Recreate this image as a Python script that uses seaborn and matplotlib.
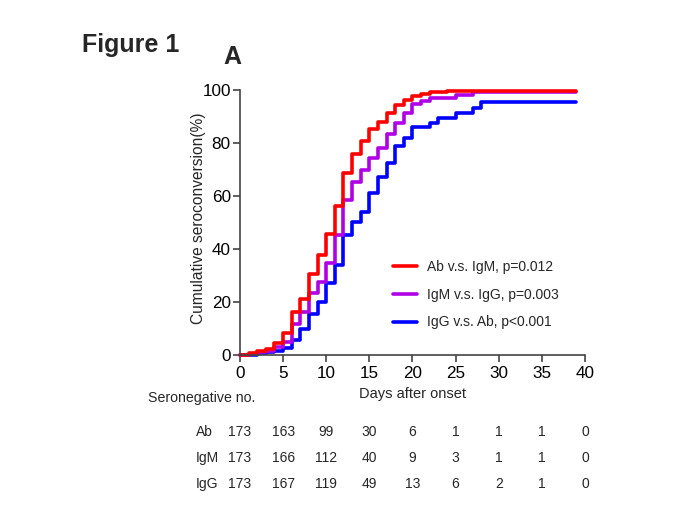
import matplotlib.pyplot as plt
import matplotlib.transforms as mtransforms
import seaborn as sns
import pandas as pd

sns.set_theme(style="ticks")
plt.rcParams['font.family'] = ['Liberation Sans', 'DejaVu Sans']

# Cumulative seroconversion (%)
ab_days = [0, 1, 2, 3, 4, 5, 6, 7, 8, 9, 10, 11, 12, 13, 14, 15, 16, 17, 18, 19, 20, 21, 22, 24, 39]
ab_pct = [0, 0.6, 1.5, 2.2, 4.5, 8.3, 16.4, 21.0, 30.7, 37.8, 45.7, 56.3, 68.8, 76.0, 80.6,
          85.2, 87.9, 91.2, 94.5, 96.2, 97.7, 98.5, 99.1, 99.6, 99.6]

igm_days = [0, 1, 2, 3, 4, 5, 6, 7, 8, 9, 10, 11, 12, 13, 14, 15, 16, 17, 18, 19, 20, 21, 22, 25, 27, 39]
igm_pct = [0, 0.3, 1.0, 1.5, 3.2, 5.0, 11.7, 16.4, 23.3, 27.7, 34.6, 45.3, 58.5, 65.4, 69.9,
           74.5, 78.2, 83.3, 87.7, 91.4, 94.6, 96.0, 97.1, 98.1, 99.4, 99.4]

igg_days = [0, 2, 3, 4, 5, 6, 7, 8, 9, 10, 11, 12, 13, 14, 15, 16, 17, 18, 19, 20, 22, 23, 25, 27, 28, 39]
igg_pct = [0, 0.6, 1.0, 1.5, 2.8, 5.5, 10.0, 15.5, 20.0, 27.2, 33.8, 45.2, 50.3, 54.1,
           61.0, 67.2, 72.6, 78.9, 81.8, 85.9, 87.7, 89.3, 91.2, 93.1, 95.3, 95.3]

labels = ['Ab v.s. IgM, p=0.012', 'IgM v.s. IgG, p=0.003', 'IgG v.s. Ab, p<0.001']
colors = ['#FF0000', '#B000E6', '#0000FF']

# Number at risk table
table_days = [0, 5, 10, 15, 20, 25, 30, 35, 40]
table_rows = ['Ab', 'IgM', 'IgG']
ab_risk = [173, 163, 99, 30, 6, 1, 1, 1, 0]
igm_risk = [173, 166, 112, 40, 9, 3, 1, 1, 0]
igg_risk = [173, 167, 119, 49, 13, 6, 2, 1, 0]

df = pd.concat([
    pd.DataFrame({'day': igg_days, 'pct': igg_pct, 'grp': labels[2]}),
    pd.DataFrame({'day': igm_days, 'pct': igm_pct, 'grp': labels[1]}),
    pd.DataFrame({'day': ab_days, 'pct': ab_pct, 'grp': labels[0]}),
])

fig = plt.figure(figsize=(6.8, 5.17), dpi=100)
ax = fig.add_axes([0.3529, 0.3133, 0.5074, 0.5126])

sns.lineplot(data=df, x='day', y='pct', hue='grp',
             hue_order=[labels[2], labels[1], labels[0]],
             palette=[colors[2], colors[1], colors[0]],
             drawstyle='steps-post', linewidth=2.6, ax=ax, legend=False,
             estimator=None, clip_on=False)

ax.set_xlim(0, 40)
ax.set_ylim(0, 100)
ax.set_xticks(range(0, 41, 5))
ax.set_yticks(range(0, 101, 20))
sns.despine(ax=ax)
for s in ['left', 'bottom']:
    ax.spines[s].set_color('#444444')
    ax.spines[s].set_linewidth(1.2)
ax.tick_params(direction='out', length=5, width=1.2, color='#444444',
               labelcolor='black', labelsize=12.3)
ax.tick_params(axis='y', pad=1.6)
ax.tick_params(axis='x', pad=3)

ax.set_xlabel('Days after onset', fontsize=10.5)
ax.xaxis.set_label_coords(0.5, -0.148)
ax.xaxis.label.set_verticalalignment('center')
ax.set_ylabel('Cumulative seroconversion(%)', fontsize=11.2)
ax.yaxis.set_label_coords(-0.12, 0.517)
ax.yaxis.label.set_verticalalignment('center')

# Legend in red / purple / blue order
handles = [plt.Line2D([], [], color=c, linewidth=2.6) for c in colors]
ax.legend(handles, labels, loc='upper left', bbox_to_anchor=(0.4435, 0.358),
          frameon=False, fontsize=10, handlelength=1.75, handletextpad=0.7,
          labelspacing=0.98, borderpad=0, borderaxespad=0)

# Titles
fig.text(0.1206, 1 - 52 / 517, 'Figure 1', fontsize=18, fontweight='bold', va='baseline')
fig.text(0.3284, 0.876, 'A', fontsize=18, fontweight='bold', va='baseline')

# Seronegative table
trans = mtransforms.blended_transform_factory(ax.transData, fig.transFigure)
fig.text(0.218, 1 - 398.3 / 517, 'Seronegative no.', fontsize=10.2, va='center')
row_y = [1 - 431.7 / 517, 1 - 458.3 / 517, 1 - 484.3 / 517]
for name, vals, y in zip(table_rows, [ab_risk, igm_risk, igg_risk], row_y):
    fig.text(196 / 680, y, name, fontsize=10, va='center')
    for d, v in zip(table_days, vals):
        ax.text(d, y, str(v), transform=trans, fontsize=10, ha='center', va='center')

fig.savefig('out.png', dpi=100)
